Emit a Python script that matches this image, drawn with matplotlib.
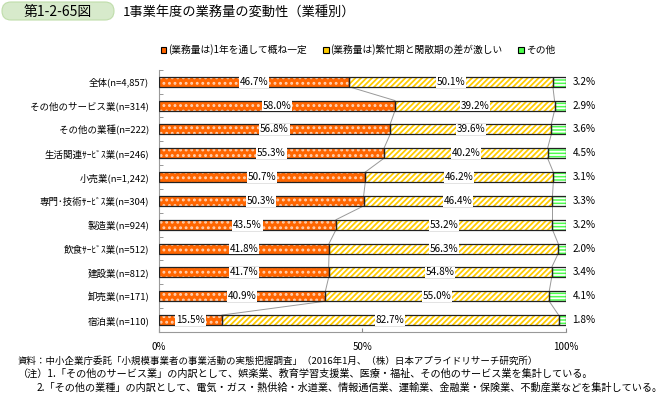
import numpy as np
import matplotlib
matplotlib.use('Agg')
import matplotlib.pyplot as plt
from matplotlib.patches import Patch, FancyBboxPatch

plt.rcParams['font.family'] = ['Noto Sans CJK JP', 'DejaVu Sans']

# データ（上から順）
categories = ['全体(n=4,857)', 'その他のサービス業(n=314)', 'その他の業種(n=222)',
              '生活関連ｻｰﾋﾞｽ業(n=246)', '小売業(n=1,242)', '専門･技術ｻｰﾋﾞｽ業(n=304)',
              '製造業(n=924)', '飲食ｻｰﾋﾞｽ業(n=512)', '建設業(n=812)',
              '卸売業(n=171)', '宿泊業(n=110)']
constant = [46.7, 58.0, 56.8, 55.3, 50.7, 50.3, 43.5, 41.8, 41.7, 40.9, 15.5]
seasonal = [50.1, 39.2, 39.6, 40.2, 46.2, 46.4, 53.2, 56.3, 54.8, 55.0, 82.7]
other = [3.2, 2.9, 3.6, 4.5, 3.1, 3.3, 3.2, 2.0, 3.4, 4.1, 1.8]
series_names = ['(業務量は)1年を通して概ね一定', '(業務量は)繁忙期と閑散期の差が激しい', 'その他']

c_orange = '#FF6600'
c_yellow = '#FFCC00'
c_green = '#4CFF4C'

fig = plt.figure(figsize=(6.65, 3.99), dpi=100)
ax = fig.add_axes([0.239, 0.168, 0.612, 0.657])

y = np.arange(len(categories))
h = 0.42
a = np.array(constant)
b = np.array(seasonal)
c = np.array(other)

plt.rcParams['hatch.linewidth'] = 1.3
# 塗り+ハッチ（ハッチ色は edgecolor なので枠は別に描く）
ax.barh(y, a, height=h, color=c_orange, edgecolor='#FFD0B0', hatch='...', linewidth=0, zorder=2)
ax.barh(y, b, left=a, height=h, color='white', edgecolor=c_yellow, hatch='//////', linewidth=0, zorder=2)
ax.barh(y, c, left=a + b, height=h, color=c_green, edgecolor='white', hatch='-----', linewidth=0, zorder=2)
for left, w in [(0, a), (a, b), (a + b, c)]:
    ax.barh(y, w, left=left, height=h, color='none', edgecolor='#222222', linewidth=0.9, zorder=3)

# 系列線
for i in range(len(y) - 1):
    ax.plot([a[i], a[i + 1]], [i + h / 2, i + 1 - h / 2], color='#999999', lw=0.7, zorder=1)
    ax.plot([a[i] + b[i], a[i + 1] + b[i + 1]], [i + h / 2, i + 1 - h / 2], color='#999999', lw=0.7, zorder=1)

box = dict(facecolor='white', edgecolor='none', pad=0.6)
for i in range(len(y)):
    ax.text(a[i] / 2, i, '%.1f%%' % a[i], ha='center', va='center', fontsize=7.2, bbox=box, zorder=4)
    ax.text(a[i] + b[i] / 2, i, '%.1f%%' % b[i], ha='center', va='center', fontsize=7.2, bbox=box, zorder=4)
    ax.text(101.6, i, '%.1f%%' % c[i], ha='left', va='center', fontsize=7.2, zorder=4)

ax.set_xlim(0, 100)
ax.set_ylim(len(y) - 0.5, -0.5)
ax.set_yticks(y)
ax.set_yticklabels(categories, fontsize=6.8)
ax.set_yticks(np.arange(-0.5, len(y), 1), minor=True)
ax.tick_params(axis='y', which='major', length=0, pad=7)
ax.tick_params(axis='y', which='minor', length=3, direction='in', color='#888888')
ax.set_xticks([0, 50, 100])
ax.set_xticklabels(['0%', '50%', '100%'], fontsize=7)
ax.tick_params(axis='x', length=3, direction='in', color='#888888', pad=7)
for s in ['top', 'right']:
    ax.spines[s].set_visible(False)
for s in ['left', 'bottom']:
    ax.spines[s].set_color('#999999')
    ax.spines[s].set_linewidth(0.8)

handles = [Patch(facecolor=col, edgecolor='black', linewidth=0.8) for col in [c_orange, c_yellow, c_green]]
fig.legend(handles, series_names, loc='center', bbox_to_anchor=(358 / 665, 1 - 50 / 399), ncol=3,
           frameon=False, fontsize=7, handlelength=0.6, handleheight=0.6, handletextpad=0.2,
           columnspacing=1.6)

# タイトル
tb = FancyBboxPatch((0.02, 3.79), 1.12, 0.18, boxstyle='round,pad=0,rounding_size=0.09',
                    transform=fig.dpi_scale_trans, facecolor='#D7EACB', edgecolor='#BFDDAA', lw=0.8)
fig.patches.append(tb)
fig.text(58 / 665, 1 - 12 / 399, '第1-2-65図', ha='center', va='center', fontsize=10)
fig.text(123 / 665, 1 - 12 / 399, '1事業年度の業務量の変動性（業種別）', ha='left', va='center', fontsize=9.5)

notes = ['資料：中小企業庁委託「小規模事業者の事業活動の実態把握調査」（2016年1月、（株）日本アプライドリサーチ研究所）',
         '（注）1.「その他のサービス業」の内訳として、娯楽業、教育学習支援業、医療・福祉、その他のサービス業を集計している。',
         '2.「その他の業種」の内訳として、電気・ガス・熱供給・水道業、情報通信業、運輸業、金融業・保険業、不動産業などを集計している。']
fig.text(18 / 665, 1 - 361 / 399, notes[0], fontsize=6.8, va='center')
fig.text(18 / 665, 1 - 374 / 399, notes[1], fontsize=7.3, va='center')
fig.text(37 / 665, 1 - 388 / 399, notes[2], fontsize=7.3, va='center')

fig.savefig('out.png', dpi=100)
